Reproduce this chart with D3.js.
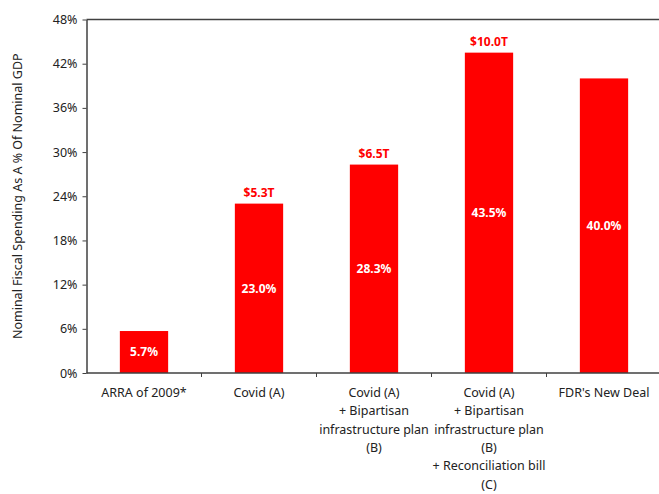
<!DOCTYPE html>
<html>
<head>
<meta charset="utf-8">
<script src="https://cdn.jsdelivr.net/npm/d3@7"></script>
<style>
  body { margin: 0; background: #fff; overflow: hidden; }
  svg { display: block; overflow: hidden; }
  text { font-family: "Noto Sans", "Open Sans", sans-serif; }
</style>
</head>
<body>
<div id="chart"></div>
<script>
// data
const categories = [
    ["ARRA of 2009*"],
    ["Covid (A)"],
    ["Covid (A)", "+ Bipartisan", "infrastructure plan", "(B)"],
    ["Covid (A)", "+ Bipartisan", "infrastructure plan", "(B)", "+ Reconciliation bill", "(C)"],
    ["FDR's New Deal"]
];
const values = [5.7, 23.0, 28.3, 43.5, 40.0];
const dollarLabels = ["", "$5.3T", "$6.5T", "$10.0T", ""];
const yTicks = [0, 6, 12, 18, 24, 30, 36, 42, 48];

const W = 659, H = 494;
const margin = { top: 19.5, right: -2.5, bottom: 121, left: 86.5 };
const width = W - margin.left - margin.right;
const height = H - margin.top - margin.bottom;

const svg = d3.select("#chart").append("svg")
    .attr("width", W)
    .attr("height", H);

const g = svg.append("g")
    .attr("transform", `translate(${margin.left},${margin.top})`);

const x = d3.scaleBand()
    .domain(d3.range(categories.length))
    .range([0, width])
    .paddingInner(0.58)
    .paddingOuter(0.29);

const y = d3.scaleLinear().domain([0, 48]).range([height, 0]);

// top border line
g.append("line")
    .attr("x1", 0).attr("x2", width)
    .attr("y1", 0).attr("y2", 0)
    .attr("stroke", "#404040").attr("stroke-width", 1.5);

// bars
g.selectAll(".bar")
    .data(values)
    .enter().append("rect")
    .attr("x", (d, i) => x(i))
    .attr("y", d => y(d))
    .attr("width", x.bandwidth())
    .attr("height", d => height - y(d))
    .attr("fill", "#ff0000");

// value labels in the bars
g.selectAll(".val")
    .data(values)
    .enter().append("text")
    .attr("x", (d, i) => x(i) + x.bandwidth() / 2)
    .attr("y", d => (y(d) + height) / 2)
    .attr("dy", "0.35em")
    .attr("text-anchor", "middle")
    .attr("fill", "#fff")
    .attr("font-size", 12)
    .attr("font-weight", "bold")
    .text(d => d.toFixed(1) + "%");

// dollar labels above bars
g.selectAll(".dol")
    .data(values)
    .enter().append("text")
    .attr("x", (d, i) => x(i) + x.bandwidth() / 2)
    .attr("y", d => y(d) - 7)
    .attr("text-anchor", "middle")
    .attr("fill", "#ff0000")
    .attr("font-size", 12)
    .attr("font-weight", "bold")
    .text((d, i) => dollarLabels[i]);

// y axis
const yAxis = g.append("g")
    .call(d3.axisLeft(y).tickValues(yTicks).tickSize(4).tickSizeOuter(0)
        .tickFormat(d => d + "%"));
yAxis.select(".domain").attr("stroke", "#404040").attr("stroke-width", 1.5);
yAxis.selectAll(".tick line").attr("stroke", "#404040");
yAxis.selectAll(".tick text")
    .attr("font-size", 12.5)
    .attr("fill", "#222")
    .attr("x", -9)
    .style("font-family", "'Noto Sans', sans-serif");

// x axis line
g.append("line")
    .attr("x1", 0).attr("x2", width)
    .attr("y1", height).attr("y2", height)
    .attr("stroke", "#404040").attr("stroke-width", 1.5);

// category boundary ticks, halfway between bands
const gap = x.step() - x.bandwidth();
g.selectAll(".xtick")
    .data(d3.range(1, categories.length))
    .enter().append("line")
    .attr("x1", i => x(i) - gap / 2)
    .attr("x2", i => x(i) - gap / 2)
    .attr("y1", height)
    .attr("y2", height + 4)
    .attr("stroke", "#404040");

// category labels
const labels = g.selectAll(".cat")
    .data(categories)
    .enter().append("text")
    .attr("text-anchor", "middle")
    .attr("font-size", 12.5)
    .attr("fill", "#222")
    .attr("transform", (d, i) => `translate(${x(i) + x.bandwidth() / 2},${height + 24})`);
labels.selectAll("tspan")
    .data(d => d)
    .enter().append("tspan")
    .attr("x", 0)
    .attr("y", (d, j) => j * 18.3)
    .text(d => d);

// y axis title
svg.append("text")
    .attr("transform", `translate(22,${margin.top + height / 2}) rotate(-90)`)
    .attr("text-anchor", "middle")
    .attr("font-size", 12.5)
    .attr("fill", "#222")
    .text("Nominal Fiscal Spending As A % Of Nominal GDP");
</script>
</body>
</html>
